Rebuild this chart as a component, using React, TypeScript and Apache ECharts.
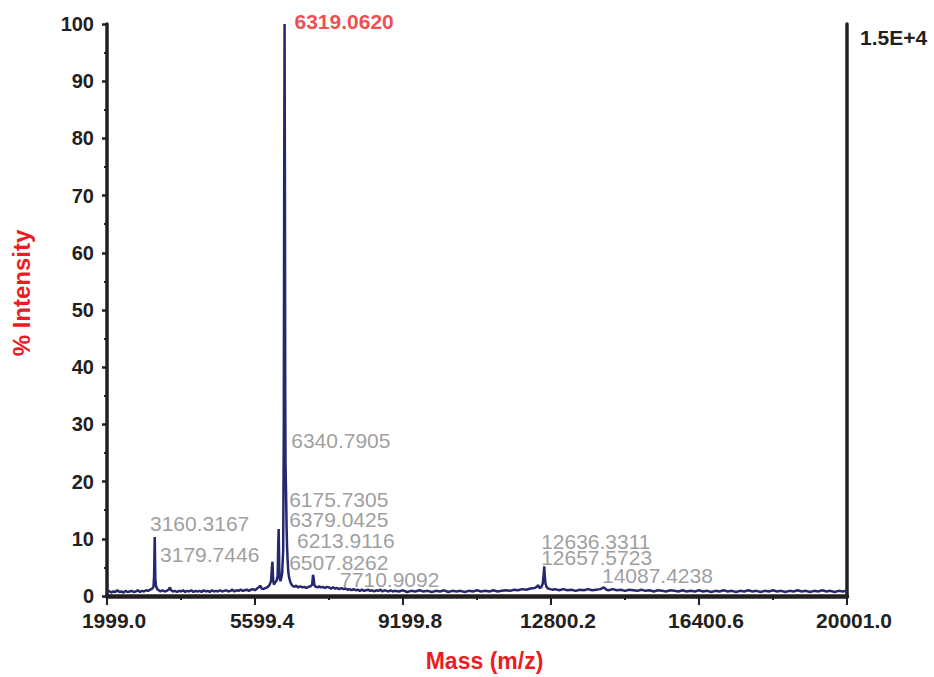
import React, { useEffect, useRef } from "react";
import * as echarts from "echarts";

const FONT = "'Liberation Sans', Arial, Helvetica, sans-serif";

const MASS_MIN = 1999.0;
const MASS_MAX = 20001.0;
const MASS_STEP = 3600.4;

// [m/z, % intensity]
const SPECTRUM: [number, number][] = [
  [1999, 0.7], [2050, 0.9], [2100, 0.6], [2150, 0.8], [2200, 0.7], [2250, 1.0], [2300, 0.7], [2350, 0.8],
  [2400, 0.6], [2450, 0.9], [2500, 0.7], [2550, 0.8], [2600, 0.9], [2650, 0.7], [2700, 0.8], [2750, 1.0],
  [2800, 0.7], [2850, 0.9], [2900, 0.8], [2950, 1.0], [3000, 0.9], [3050, 1.1], [3100, 1.3], [3130, 1.6],
  [3145, 3.5], [3155, 8.0], [3160, 10.3], [3168, 6.5], [3175, 3.0], [3190, 1.8], [3220, 1.2], [3260, 1.0],
  [3300, 0.8], [3350, 1.0], [3400, 0.8], [3450, 0.9], [3500, 1.1], [3530, 1.5], [3560, 1.0], [3600, 0.8],
  [3650, 0.9], [3700, 0.7], [3750, 0.9], [3800, 0.8], [3850, 1.0], [3900, 0.7], [3950, 0.9], [4000, 0.8],
  [4050, 1.0], [4100, 0.7], [4150, 0.9], [4200, 0.8], [4250, 0.9], [4300, 0.7], [4350, 1.0], [4400, 0.8],
  [4450, 0.9], [4500, 0.7], [4550, 1.0], [4600, 0.8], [4650, 0.9], [4700, 0.8], [4750, 1.0], [4800, 0.8],
  [4850, 0.9], [4900, 1.0], [4950, 0.8], [5000, 0.9], [5050, 1.1], [5100, 0.8], [5150, 1.0], [5200, 0.9],
  [5250, 1.1], [5300, 0.9], [5350, 1.0], [5400, 1.1], [5450, 0.9], [5500, 1.1], [5550, 1.2], [5600, 1.0],
  [5650, 1.3], [5700, 1.6], [5730, 1.8], [5760, 1.3], [5800, 1.2], [5850, 1.4], [5900, 1.5], [5950, 1.9],
  [5990, 2.6], [6010, 5.0], [6025, 6.0], [6040, 2.8], [6060, 2.0], [6090, 2.4], [6120, 2.6], [6150, 3.5],
  [6165, 9.0], [6175, 11.7], [6188, 5.5], [6200, 3.0], [6220, 2.6], [6240, 3.2], [6260, 4.0], [6285, 8.0],
  [6300, 30], [6310, 75], [6319, 100], [6328, 70], [6335, 35], [6342, 23], [6355, 18], [6368, 12],
  [6380, 8.5], [6395, 6.0], [6410, 4.2], [6430, 3.2], [6460, 2.4], [6490, 2.0], [6510, 1.8], [6550, 1.6],
  [6600, 1.8], [6650, 1.5], [6700, 1.7], [6750, 1.5], [6800, 1.6], [6850, 1.4], [6900, 1.6], [6950, 1.7],
  [6990, 2.0], [7010, 3.7], [7025, 3.2], [7045, 1.9], [7080, 1.6], [7120, 1.5], [7160, 1.7], [7200, 1.5],
  [7250, 1.6], [7300, 1.4], [7350, 1.6], [7400, 1.5], [7450, 1.3], [7500, 1.5], [7550, 1.3], [7600, 1.4],
  [7650, 1.2], [7700, 1.4], [7750, 1.2], [7800, 1.3], [7850, 1.1], [7900, 1.2], [7950, 1.0], [8000, 1.2],
  [8050, 1.0], [8100, 1.1], [8150, 0.9], [8200, 1.1], [8250, 0.9], [8300, 1.0], [8350, 1.1], [8400, 0.9],
  [8450, 1.0], [8500, 0.8], [8550, 1.0], [8600, 0.9], [8650, 1.1], [8700, 0.8], [8750, 1.0], [8800, 0.9],
  [8850, 0.8], [8900, 1.0], [8950, 0.8], [9000, 0.9], [9100, 0.8], [9200, 1.0], [9300, 0.7], [9400, 0.9],
  [9500, 0.8], [9600, 1.0], [9700, 0.8], [9800, 0.9], [9900, 0.7], [10000, 0.9], [10100, 0.8], [10200, 1.0],
  [10300, 0.7], [10400, 0.9], [10500, 0.8], [10600, 0.9], [10700, 0.7], [10800, 0.9], [10900, 0.8], [11000, 1.0],
  [11100, 0.8], [11200, 0.9], [11300, 0.8], [11400, 1.0], [11500, 0.8], [11600, 0.9], [11700, 1.0], [11800, 0.9],
  [11900, 1.1], [12000, 1.0], [12100, 1.2], [12200, 1.1], [12300, 1.3], [12400, 1.4], [12450, 1.6], [12490, 1.9],
  [12520, 1.4], [12560, 1.5], [12600, 2.2], [12625, 4.0], [12636, 5.2], [12648, 3.6], [12665, 2.2], [12690, 1.6],
  [12730, 1.3], [12780, 1.2], [12850, 1.1], [12900, 1.2], [13000, 1.0], [13100, 1.2], [13200, 1.0], [13300, 1.1],
  [13400, 0.9], [13500, 1.1], [13600, 1.0], [13700, 1.2], [13800, 1.0], [13900, 1.1], [14000, 1.2], [14087, 1.5],
  [14150, 1.1], [14200, 1.0], [14300, 1.2], [14400, 1.0], [14500, 1.1], [14600, 0.9], [14700, 1.1], [14800, 1.0],
  [14900, 0.9], [15000, 1.1], [15100, 0.9], [15200, 1.0], [15300, 0.8], [15400, 1.0], [15500, 0.9], [15600, 0.8],
  [15700, 1.0], [15800, 0.9], [15900, 0.8], [16000, 1.0], [16100, 0.8], [16200, 0.9], [16300, 0.8], [16400, 1.0],
  [16500, 0.8], [16600, 0.9], [16700, 0.7], [16800, 0.9], [16900, 0.8], [17000, 1.0], [17100, 0.8], [17200, 0.9],
  [17300, 0.7], [17400, 0.9], [17500, 0.8], [17600, 1.0], [17700, 0.8], [17800, 0.9], [17900, 0.7], [18000, 0.9],
  [18100, 0.8], [18200, 1.0], [18300, 0.8], [18400, 0.9], [18500, 0.7], [18600, 0.9], [18700, 0.8], [18800, 1.0],
  [18900, 0.8], [19000, 0.9], [19100, 0.7], [19200, 0.9], [19300, 0.8], [19400, 1.0], [19500, 0.8], [19600, 0.9],
  [19700, 0.7], [19800, 0.9], [19900, 0.8], [20000, 0.9],
];

// peak annotations: text, anchor m/z (left edge of text), anchor level (%)
const PEAK_LABELS = [
  "3160.3167", "3179.7446", "6340.7905", "6175.7305", "6379.0425", "6213.9116",
  "6507.8262", "7710.9092", "12636.3311", "12657.5723", "14087.4238",
];
const PEAK_LABEL_MASS = [3045, 3290, 6480, 6430, 6430, 6620, 6430, 7670, 12560, 12560, 14040];
const PEAK_LABEL_LEVEL = [12.7, 7.2, 27.2, 16.9, 13.3, 9.7, 5.9, 2.8, 9.6, 6.8, 3.5];

const BASE_PEAK_LABEL = "6319.0620";
const BASE_PEAK_LABEL_MASS = 6560;
const BASE_PEAK_LABEL_LEVEL = 100.4;

const Y_MAX = 100;
const Y_STEP = 10;
const RIGHT_AXIS_MAX = 15000;
const RIGHT_AXIS_LABEL = "1.5E+4";

const INK = "#231f20";
const RED = "#ed1c24";
const NAVY = "#25286f";
const GREY = "#858585";

export default function App() {
  const ref = useRef<HTMLDivElement>(null);
  useEffect(() => {
    if (!ref.current) return;
    const chart = echarts.init(ref.current, null, { renderer: "svg" });
    const span = MASS_MAX - MASS_MIN;
    chart.setOption({
      animation: false,
      backgroundColor: "#ffffff",
      grid: { left: 107, right: 87, top: 24, bottom: 80, containLabel: false },
      xAxis: {
        type: "value",
        min: 0,
        max: span,
        interval: MASS_STEP,
        name: "Mass (m/z)",
        nameLocation: "middle",
        nameGap: 53,
        nameTextStyle: { color: RED, fontSize: 23, fontWeight: "bold", fontFamily: FONT, padding: [0, 0, 0, 15] },
        axisLine: { show: true, onZero: false, lineStyle: { color: INK, width: 4.5 } },
        axisTick: { show: true, length: 9, lineStyle: { color: INK, width: 2 } },
        minorTick: { show: true, splitNumber: 2, length: 4, lineStyle: { color: INK, width: 2 } },
        axisLabel: {
          formatter: (v: number) => (v + MASS_MIN).toFixed(1),
          color: INK,
          fontSize: 21,
          fontWeight: "bold",
          fontFamily: FONT,
          margin: 14,
          padding: [0, 0, 0, 14],
        },
        splitLine: { show: false },
      },
      yAxis: [
        {
          type: "value",
          min: 0,
          max: Y_MAX,
          interval: Y_STEP,
          name: "% Intensity",
          nameLocation: "middle",
          nameRotate: 90,
          nameGap: 74,
          nameTextStyle: { color: RED, fontSize: 24, fontWeight: "bold", fontFamily: FONT, padding: [0, 0, 0, 34] },
          axisLine: { show: true, lineStyle: { color: INK, width: 3.5 } },
          axisTick: { show: true, length: 5, lineStyle: { color: INK, width: 2.5 } },
          minorTick: { show: true, splitNumber: 2, length: 3, lineStyle: { color: INK, width: 2 } },
          axisLabel: { color: INK, fontSize: 20, fontWeight: "bold", fontFamily: FONT, margin: 13 },
          splitLine: { show: false },
        },
        {
          type: "value",
          position: "right",
          min: 0,
          max: RIGHT_AXIS_MAX,
          interval: RIGHT_AXIS_MAX,
          axisLine: { show: true, lineStyle: { color: INK, width: 3.5 } },
          axisTick: { show: false },
          axisLabel: {
            formatter: (v: number) => (v === RIGHT_AXIS_MAX ? RIGHT_AXIS_LABEL : ""),
            color: INK,
            fontSize: 21,
            fontWeight: "bold",
            fontFamily: FONT,
            margin: 13,
            verticalAlign: "top",
            padding: [3, 0, 0, 0],
          },
          splitLine: { show: false },
        },
      ],
      series: [
        {
          type: "line",
          data: SPECTRUM.map(([m, v]) => [m - MASS_MIN, v]),
          showSymbol: false,
          symbol: "none",
          lineStyle: { color: NAVY, width: 2.5 },
          z: 3,
          silent: true,
        },
        {
          type: "scatter",
          data: PEAK_LABELS.map((t, i) => ({ name: t, value: [PEAK_LABEL_MASS[i] - MASS_MIN, PEAK_LABEL_LEVEL[i]] })),
          symbolSize: 0,
          clip: false,
          silent: true,
          label: {
            show: true,
            position: "right",
            distance: 0,
            formatter: "{b}",
            color: GREY,
            fontSize: 21,
            fontFamily: FONT,
          },
          z: 5,
        },
        {
          type: "scatter",
          data: [{ name: BASE_PEAK_LABEL, value: [BASE_PEAK_LABEL_MASS - MASS_MIN, BASE_PEAK_LABEL_LEVEL] }],
          symbolSize: 0,
          clip: false,
          silent: true,
          label: {
            show: true,
            position: "right",
            distance: 0,
            formatter: "{b}",
            color: RED,
            fontSize: 21,
            fontWeight: "bold",
            fontFamily: FONT,
          },
          z: 5,
        },
      ],
    });
    return () => chart.dispose();
  }, []);
  return <div ref={ref} style={{ position: "fixed", left: 0, top: 0, width: 934, height: 677 }} />;
}
